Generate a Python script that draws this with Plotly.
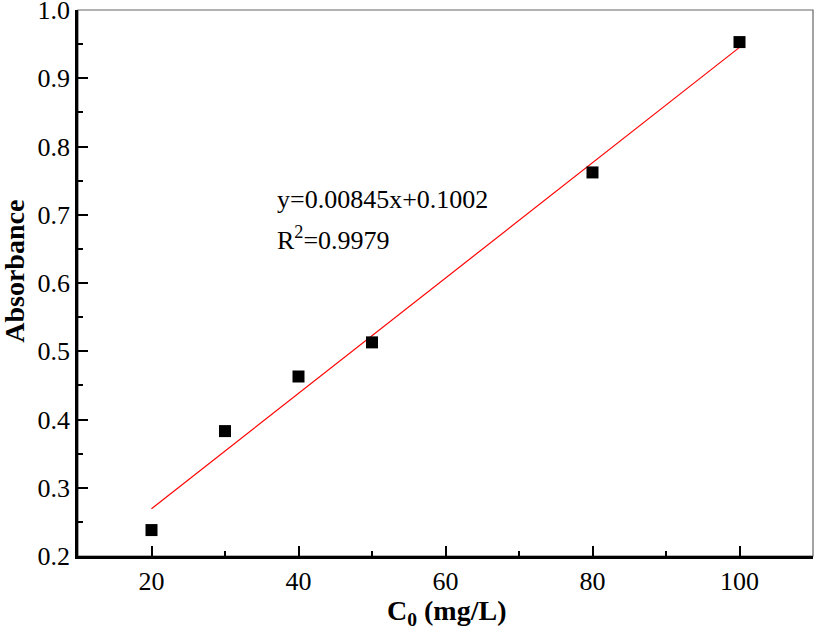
import plotly.graph_objects as go

# data
conc = [20, 30, 40, 50, 80, 100]
absorbance = [0.238, 0.383, 0.463, 0.513, 0.762, 0.953]

# fitted line from the reported equation
slope = 0.00845
intercept = 0.1002
fit_x = [20, 100]
fit_y = [slope * x + intercept for x in fit_x]

y_ticks = [0.2, 0.3, 0.4, 0.5, 0.6, 0.7, 0.8, 0.9, 1.0]
y_labels = ["0.2", "0.3", "0.4", "0.5", "0.6", "0.7", "0.8", "0.9", "1.0"]

font_family = "Liberation Serif"

fig = go.Figure()
fig.add_trace(go.Scatter(x=fit_x, y=fit_y, mode="lines",
                         line=dict(color="red", width=1.2), showlegend=False))
fig.add_trace(go.Scatter(x=conc, y=absorbance, mode="markers",
                         marker=dict(symbol="square", size=12, color="black"),
                         showlegend=False))

fig.add_annotation(x=36.8, y=0.723, xref="x", yref="y", xanchor="left",
                   text="y=0.00845x+0.1002", showarrow=False,
                   font=dict(family=font_family, size=26, color="black"))
fig.add_annotation(x=36.8, y=0.665, xref="x", yref="y", xanchor="left",
                   text="R<sup>2</sup>=0.9979", showarrow=False,
                   font=dict(family=font_family, size=26, color="black"))

# axis titles
fig.add_annotation(x=-0.086, y=0.522, xref="paper", yref="paper", textangle=-90,
                   xanchor="center", yanchor="middle",
                   text="<b>Absorbance</b>", showarrow=False,
                   font=dict(family=font_family, size=28, color="black"))
fig.add_annotation(x=0.501, y=-0.104, xref="paper", yref="paper",
                   xanchor="center", yanchor="middle",
                   text="<b>C<sub>0</sub> (mg/L)</b>", showarrow=False,
                   font=dict(family=font_family, size=28, color="black"))

# thin grey frame for top and right
fig.add_shape(type="rect", xref="paper", yref="paper", x0=0, y0=0, x1=1, y1=1,
              line=dict(color="#666666", width=1.2), layer="below")

fig.update_xaxes(range=[10, 110], dtick=20, tick0=0, ticks="inside", ticklen=10,
                 tickwidth=2, tickcolor="black", showline=True, linecolor="black",
                 linewidth=2.5, showgrid=False, zeroline=False, automargin=False,
                 minor=dict(dtick=10, tick0=0, ticks="inside", ticklen=5,
                            tickwidth=2, tickcolor="black"),
                 tickfont=dict(family=font_family, size=26, color="black"))
fig.update_yaxes(range=[0.2, 1.0], tickvals=y_ticks, ticktext=y_labels,
                 ticks="inside", ticklen=10, tickwidth=2, tickcolor="black",
                 showline=True, linecolor="black", linewidth=2.5,
                 showgrid=False, zeroline=False, automargin=False,
                 ticklabeloverflow="allow",
                 minor=dict(dtick=0.05, tick0=0, ticks="inside", ticklen=5,
                            tickwidth=2, tickcolor="black"),
                 tickfont=dict(family=font_family, size=26, color="black"))

fig.update_layout(width=815, height=640, plot_bgcolor="white", paper_bgcolor="white",
                  margin=dict(l=78, r=2, t=10, b=84))

# drop the page's default body margin so the figure fills the window
fig.write_html("out.html", config={"displayModeBar": False},
               post_script="document.body.style.margin='0';")
